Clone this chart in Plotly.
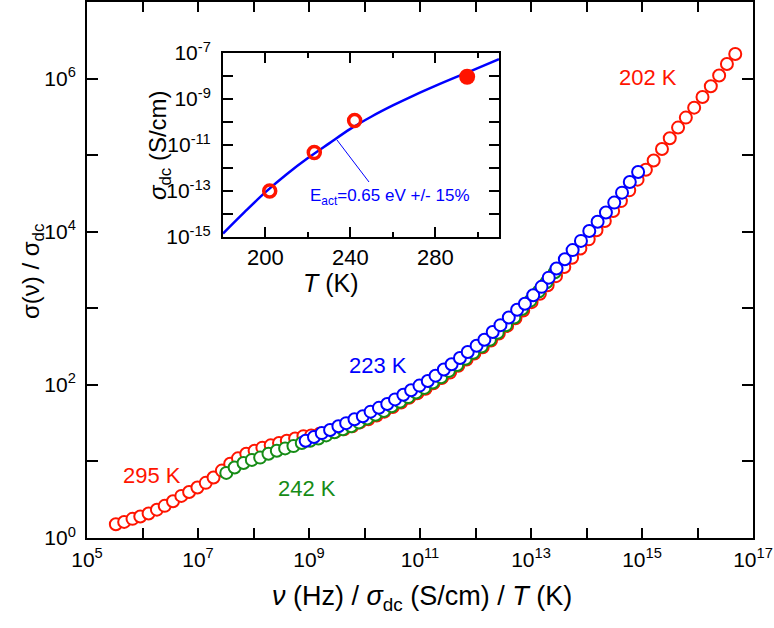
import numpy as np
import plotly.graph_objects as go

# ---------------- main panel data (log10 values) ----------------
red295_logx = [5.52, 5.67, 5.82, 5.96, 6.11, 6.26, 6.40, 6.55, 6.70, 6.84, 6.99, 7.14, 7.28, 7.43,
               7.58, 7.72, 7.87, 8.02, 8.16, 8.31, 8.46, 8.60, 8.75, 8.90, 9.04, 9.19, 9.34, 9.48,
               9.63, 9.78, 9.92, 10.07, 10.22, 10.36, 10.51, 10.66, 10.80, 10.95, 11.10, 11.24,
               11.39, 11.54]
red295_logy = [0.18, 0.21, 0.25, 0.28, 0.32, 0.37, 0.42, 0.48, 0.55, 0.60, 0.66, 0.72, 0.79, 0.88,
               0.97, 1.04, 1.10, 1.14, 1.18, 1.21, 1.24, 1.27, 1.30, 1.33, 1.34, 1.36, 1.37, 1.39,
               1.42, 1.46, 1.51, 1.55, 1.60, 1.65, 1.71, 1.77, 1.83, 1.89, 1.95, 2.02, 2.09, 2.16]

red202_logx = [10.66, 10.81, 10.96, 11.10, 11.25, 11.40, 11.54, 11.69, 11.84, 11.98, 12.13, 12.28,
               12.42, 12.57, 12.72, 12.86, 13.01, 13.16, 13.30, 13.45, 13.60, 13.74, 13.89, 14.04,
               14.18, 14.33, 14.48, 14.62, 14.77, 14.92, 15.07, 15.21, 15.36, 15.50, 15.65, 15.79,
               15.94, 16.09, 16.24, 16.39, 16.53, 16.68]
red202_logy = [1.78, 1.84, 1.90, 1.96, 2.03, 2.10, 2.17, 2.25, 2.33, 2.41, 2.49, 2.58, 2.67, 2.77,
               2.87, 2.97, 3.08, 3.19, 3.30, 3.42, 3.54, 3.66, 3.78, 3.90, 4.02, 4.14, 4.27, 4.40,
               4.54, 4.68, 4.81, 4.93, 5.08, 5.22, 5.36, 5.49, 5.62, 5.76, 5.90, 6.04, 6.19, 6.32]

green242_logx = [7.51, 7.66, 7.82, 7.97, 8.12, 8.27, 8.42, 8.57, 8.72, 8.87, 9.02, 9.17, 9.31, 9.46,
                 9.61, 9.76, 9.90, 10.05, 10.20, 10.35, 10.49, 10.64, 10.79, 10.93, 11.08, 11.23,
                 11.38, 11.52, 11.67, 11.82, 11.96, 12.11, 12.26, 12.40, 12.55, 12.70, 12.84, 12.99,
                 13.14, 13.28, 13.43]
green242_logy = [0.85, 0.92, 0.98, 1.02, 1.05, 1.10, 1.14, 1.17, 1.20, 1.24, 1.27, 1.30, 1.34, 1.38,
                 1.42, 1.46, 1.51, 1.56, 1.61, 1.66, 1.72, 1.78, 1.84, 1.90, 1.96, 2.03, 2.10, 2.18,
                 2.26, 2.34, 2.42, 2.50, 2.59, 2.68, 2.78, 2.88, 2.99, 3.10, 3.22, 3.34, 3.47]

blue223_logx = [8.94, 9.09, 9.23, 9.38, 9.53, 9.67, 9.82, 9.97, 10.11, 10.26, 10.41, 10.55, 10.70,
                10.84, 10.99, 11.14, 11.28, 11.43, 11.57, 11.72, 11.86, 12.02, 12.16, 12.31, 12.45,
                12.60, 12.75, 12.89, 13.04, 13.19, 13.32, 13.46, 13.61, 13.75, 13.90, 14.05, 14.20,
                14.35, 14.50, 14.64, 14.78, 14.93]
blue223_logy = [1.27, 1.32, 1.37, 1.41, 1.46, 1.50, 1.55, 1.59, 1.65, 1.70, 1.75, 1.81, 1.87, 1.93,
                1.99, 2.05, 2.12, 2.20, 2.27, 2.35, 2.43, 2.51, 2.59, 2.69, 2.78, 2.88, 2.98, 3.06,
                3.17, 3.28, 3.40, 3.52, 3.64, 3.76, 3.88, 4.01, 4.13, 4.25, 4.38, 4.51, 4.65, 4.78]

main_x_exponents = list(range(5, 18))
main_x_labelled = [5, 7, 9, 11, 13, 15, 17]
main_y_exponents = list(range(0, 8))
main_y_labelled = [0, 2, 4, 6]

# ---------------- inset data ----------------
inset_T_open = [202, 223, 242]
inset_sigma_open = [1.0e-13, 4.7e-12, 1.15e-10]
inset_T_filled = [295]
inset_sigma_filled = [9.3e-9]
fit_T = [180, 190, 200, 210, 220, 230, 240, 250, 260, 270, 280, 290, 300, 310]
fit_logsigma = [-14.85, -13.93, -13.05, -12.27, -11.57, -10.93, -10.30, -9.76, -9.28, -8.84,
                -8.43, -8.04, -7.66, -7.27]
inset_x_major = [200, 240, 280]
inset_x_minor = [220, 260, 300]
inset_y_exponents = list(range(-15, -6))
inset_y_labelled = [-15, -13, -11, -9, -7]

RED = "#ff1400"
BLUE = "#0000ff"
GREEN = "#168c16"
FONT = "Arial, Liberation Sans, sans-serif"

fig = go.Figure()


def add_series(logx, logy, color):
    fig.add_trace(go.Scatter(
        x=np.power(10.0, logx), y=np.power(10.0, logy), mode="markers",
        marker=dict(symbol="circle", size=12, color="white",
                    line=dict(color=color, width=2)),
        showlegend=False, hoverinfo="skip"))


add_series(red202_logx, red202_logy, RED)
add_series(red295_logx, red295_logy, RED)
add_series(green242_logx, green242_logy, GREEN)
add_series(blue223_logx, blue223_logy, BLUE)

# inset
fig.add_trace(go.Scatter(x=fit_T, y=np.power(10.0, fit_logsigma), mode="lines",
                         line=dict(color=BLUE, width=2.5, shape="spline"),
                         xaxis="x2", yaxis="y2", showlegend=False, hoverinfo="skip"))
fig.add_trace(go.Scatter(x=inset_T_open, y=inset_sigma_open, mode="markers",
                         marker=dict(symbol="circle", size=12, color="rgba(255,255,255,0)",
                                     line=dict(color=RED, width=3.5)),
                         xaxis="x2", yaxis="y2", showlegend=False, hoverinfo="skip"))
fig.add_trace(go.Scatter(x=inset_T_filled, y=inset_sigma_filled, mode="markers",
                         marker=dict(symbol="circle", size=16, color=RED,
                                     line=dict(color=RED, width=0)),
                         xaxis="x2", yaxis="y2", showlegend=False, hoverinfo="skip"))


def dec_labels(exps, labelled):
    return [f"10<sup>{e}</sup>" if e in labelled else "" for e in exps]


axis_common = dict(showline=True, linewidth=2, linecolor="black", mirror="ticks",
                   ticks="inside", tickwidth=1.5, tickcolor="black", showgrid=False,
                   zeroline=False, automargin=False)

L, R, T, B = 87, 21, 2, 90
W, H = 774, 628
pw, ph = W - L - R, H - T - B


def px(xp):
    return (xp - L) / pw


def py(yp):
    return (H - B - yp) / ph


fig.update_layout(
    width=W, height=H,
    margin=dict(l=L, r=R, t=T, b=B, pad=0, autoexpand=False),
    paper_bgcolor="white", plot_bgcolor="white",
    font=dict(family=FONT, size=20, color="black"),
    xaxis=dict(type="log", range=[5, 17], domain=[0, 1],
               tickvals=[10.0 ** e for e in main_x_exponents],
               ticktext=dec_labels(main_x_exponents, main_x_labelled),
               ticklen=10, ticklabelstandoff=2,
               tickfont=dict(family=FONT, size=21, color="black"), **axis_common),
    yaxis=dict(type="log", range=[0, 7], domain=[0, 1],
               tickvals=[10.0 ** e for e in main_y_exponents],
               ticktext=dec_labels(main_y_exponents, main_y_labelled),
               ticklen=11, ticklabelstandoff=5,
               tickfont=dict(family=FONT, size=21, color="black"), **axis_common),
    xaxis2=dict(range=[180, 310], domain=[px(223), px(499)], anchor="y2",
                tickvals=inset_x_major, ticktext=[str(v) for v in inset_x_major],
                ticklen=10, ticklabelstandoff=0,
                tickfont=dict(family=FONT, size=22, color="black"),
                minor=dict(tickvals=inset_x_minor, ticks="inside", ticklen=5,
                           tickwidth=1.5, tickcolor="black"),
                **axis_common),
    yaxis2=dict(type="log", range=[-15, -7], domain=[py(237), py(53)], anchor="x2",
                tickvals=[10.0 ** e for e in inset_y_exponents],
                ticktext=dec_labels(inset_y_exponents, inset_y_labelled),
                ticklen=10, ticklabelstandoff=6,
                tickfont=dict(family=FONT, size=21, color="black"), **axis_common),
)


def note(text, xp, yp, color="black", size=20, angle=0):
    fig.add_annotation(text=text, x=px(xp), y=py(yp), xref="paper", yref="paper",
                       showarrow=False, xanchor="center", yanchor="middle",
                       textangle=angle, font=dict(family=FONT, size=size, color=color))


note("<i>ν</i> (Hz) / <i>σ</i><sub>dc</sub> (S/cm) / <i>T</i> (K)", 422, 598, size=27)
note("σ(ν) / σ<sub>dc</sub>", 32, 272, size=24, angle=-90)
note("<i>σ</i><sub>dc</sub> (S/cm)", 160, 145, size=24, angle=-90)
note("<i>T</i> (K)", 331, 283, size=25)
note("202 K", 648, 77, RED, size=22)
note("223 K", 378, 365, BLUE, size=22)
note("295 K", 152, 475, RED, size=22)
note("242 K", 307, 488, GREEN, size=22)
note("E<sub>act</sub>=0.65 eV +/- 15%", 390, 197, BLUE, size=17)

fig.add_shape(type="line", xref="paper", yref="paper",
              x0=px(337), y0=py(140), x1=px(369), y1=py(182),
              line=dict(color=BLUE, width=1))

fig.write_html("out.html", config={"displayModeBar": False},
               post_script="document.body.style.margin='0px';")
